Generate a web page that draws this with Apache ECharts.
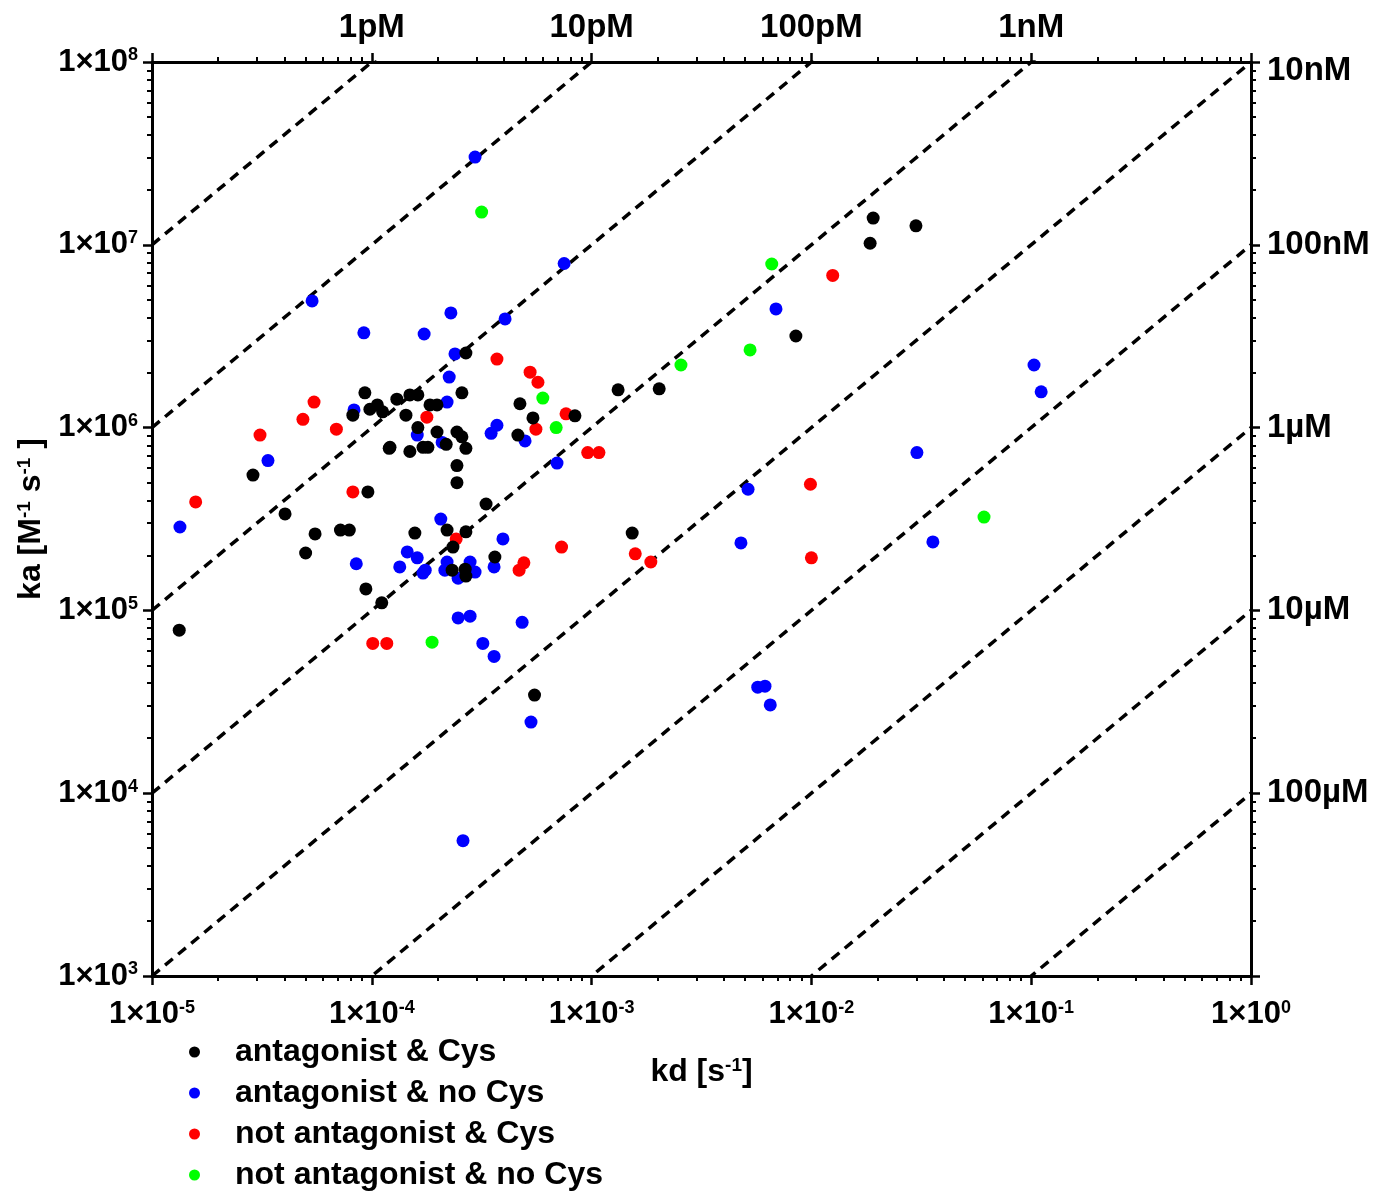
<!DOCTYPE html>
<html>
<head>
<meta charset="utf-8">
<script src="https://cdn.jsdelivr.net/npm/echarts@6/dist/echarts.min.js"></script>
<style>html,body{margin:0;padding:0;background:#fff}#c{width:1387px;height:1194px}</style>
</head>
<body>
<div id="c"></div>
<script>
// ---- data: [kd (s^-1), ka (M^-1 s^-1)] ----
const antagonistCys = [
[9.3e-5,1.55e6],[8.2e-5,1.17e6],[1.06e-4,1.33e6],[1.12e-4,1.22e6],[9.8e-5,1.26e6],[1.30e-4,1.43e6],[1.20e-4,7.7e5],[1.49e-4,1.51e6],[1.62e-4,1.51e6],[1.84e-4,1.33e6],[1.98e-4,1.33e6],[1.43e-4,1.17e6],[2.57e-4,1.55e6],[1.62e-4,1.0e6],[1.98e-4,9.46e5],[2.44e-4,9.46e5],[2.57e-4,8.9e5],[2.68e-4,7.7e5],[2.18e-4,8.1e5],[1.21e-4,7.8e5],[1.49e-4,7.4e5],[1.71e-4,7.8e5],[1.80e-4,7.8e5],[2.44e-4,6.2e5],[2.44e-4,5.0e5],[4.72e-4,1.35e6],[5.41e-4,1.13e6],[4.62e-4,9.1e5],[8.4e-4,1.16e6],[1.32e-3,1.61e6],[2.03e-3,1.63e6],[2.68e-4,2.56e6],[8.5e-3,3.17e6],[1.85e-2,1.02e7],[1.91e-2,1.40e7],[2.99e-2,1.27e7],
[2.88e-5,5.5e5],[4.03e-5,3.37e5],[5.52e-5,2.62e5],[7.2e-5,2.75e5],[7.9e-5,2.75e5],[5.0e-5,2.06e5],[9.4e-5,1.31e5],[1.11e-4,1.10e5],[1.33e-5,7.8e4],[9.6e-5,4.45e5],[1.57e-4,2.65e5],[2.2e-4,2.75e5],[2.68e-4,2.69e5],[2.34e-4,2.22e5],[3.31e-4,3.82e5],[3.63e-4,1.96e5],[2.32e-4,1.66e5],[2.66e-4,1.68e5],[2.68e-4,1.54e5],[5.5e-4,3.44e4],[1.53e-3,2.65e5]
];
const antagonistNoCys = [
[1.34e-5,2.86e5],[3.37e-5,6.6e5],[5.35e-5,4.93e6],[9.2e-5,3.3e6],[1.73e-4,3.25e6],[2.29e-4,4.24e6],[4.04e-4,3.93e6],[2.95e-4,3.02e7],[7.5e-4,7.9e6],[2.39e-4,2.53e6],[2.25e-4,1.89e6],[2.2e-4,1.38e6],[3.71e-4,1.03e6],[3.49e-4,9.3e5],[4.98e-4,8.45e5],[6.96e-4,6.4e5],[1.61e-4,9.1e5],[2.09e-4,8.3e5],[8.3e-5,1.25e6],
[2.06e-4,3.16e5],[3.95e-4,2.46e5],[1.45e-4,2.09e5],[1.61e-4,1.94e5],[1.34e-4,1.73e5],[1.75e-4,1.66e5],[1.71e-4,1.6e5],[2.2e-4,1.84e5],[2.8e-4,1.84e5],[2.15e-4,1.66e5],[2.47e-4,1.5e5],[2.95e-4,1.62e5],[3.6e-4,1.73e5],[8.5e-5,1.8e5],[2.47e-4,9.1e4],[2.8e-4,9.3e4],[4.83e-4,8.6e4],[3.2e-4,6.6e4],[3.6e-4,5.6e4],[5.3e-4,2.45e4],[2.6e-4,5.5e3],
[5.15e-3,4.6e5],[4.78e-3,2.34e5],[6.9e-3,4.46e6],[3.02e-2,7.3e5],[3.57e-2,2.37e5],[1.03e-1,2.2e6],[1.11e-1,1.57e6],[5.7e-3,3.8e4],[6.15e-3,3.85e4],[6.5e-3,3.04e4]
];
const notAntagonistCys = [
[1.58e-5,3.92e5],[3.1e-5,9.1e5],[4.86e-5,1.11e6],[5.46e-5,1.38e6],[6.9e-5,9.8e5],[8.2e-5,4.45e5],[1.01e-4,6.6e4],[1.17e-4,6.6e4],[1.78e-4,1.14e6],[2.42e-4,2.46e5],[3.71e-4,2.37e6],[5.25e-4,2.01e6],[5.7e-4,1.77e6],[5.58e-4,9.8e5],[7.65e-4,1.19e6],[9.6e-4,7.3e5],[1.08e-3,7.3e5],[4.92e-4,1.82e5],[4.68e-4,1.66e5],[7.3e-4,2.22e5],[1.58e-3,2.04e5],[1.86e-3,1.84e5],[9.9e-3,4.9e5],[1.0e-2,1.94e5],[1.25e-2,6.8e6]
];
const notAntagonistNoCys = [
[3.16e-4,1.51e7],[6.0e-4,1.45e6],[6.9e-4,1.0e6],[1.88e-4,6.7e4],[2.55e-3,2.2e6],[5.26e-3,2.66e6],[6.6e-3,7.85e6],[6.1e-2,3.24e5]
];
const seriesNames = ['antagonist & Cys','antagonist & no Cys','not antagonist & Cys','not antagonist & no Cys'];
// equilibrium dissociation constants (M) for the dashed iso-KD lines
const kdLineValues = [1e-12,1e-11,1e-10,1e-9,1e-8,1e-7,1e-6,1e-5,1e-4];
// tick labels
const topTickLabels = ['', '1pM', '10pM', '100pM', '1nM', ''];       // kd 1e-5 .. 1e0
const rightTickLabels = ['', '100\u00b5M', '10\u00b5M', '1\u00b5M', '100nM', '10nM']; // ka 1e3 .. 1e8

const FONT = '"Liberation Sans", Arial, sans-serif';
const rich = {
  b: {fontSize: 31, fontWeight: 'bold', fontFamily: FONT, color: '#000'},
  s: {fontSize: 18, fontWeight: 'bold', fontFamily: FONT, color: '#000', verticalAlign: 'top'}
};
const richName = {
  b: {fontSize: 32, fontWeight: 'bold', fontFamily: FONT, color: '#000'},
  s: {fontSize: 19, fontWeight: 'bold', fontFamily: FONT, color: '#000', verticalAlign: 'top'}
};
const expOf = v => Math.round(Math.log10(v));
const powLabel = v => '{b|1\u00d710}{s|' + expOf(v) + '}';

function axisCommon(extra) {
  return Object.assign({
    type: 'log', logBase: 10,
    axisLine: {show: true, onZero: false, lineStyle: {color: '#000', width: 3}},
    axisTick: {show: true, inside: false, length: 9, lineStyle: {color: '#000', width: 2.5}},
    minorTick: {show: true, splitNumber: 9, length: 5, lineStyle: {color: '#000', width: 2}},
    splitLine: {show: false}, minorSplitLine: {show: false}
  }, extra);
}

const colors = ['#000000', '#0000ff', '#ff0000', '#00ff00'];
const dataSets = [antagonistCys, antagonistNoCys, notAntagonistCys, notAntagonistNoCys];

const series = [];
kdLineValues.forEach(K => {
  series.push({
    type: 'line', silent: true, symbol: 'none', clip: true, z: 1,
    data: [[1e-5, 1e-5 / K], [1, 1 / K]],
    lineStyle: {color: '#000', width: 3.5, type: [10, 7]}
  });
});
// draw order: green, red, blue, black (black on top)
[3, 2, 1, 0].forEach(i => {
  series.push({
    name: seriesNames[i], type: 'scatter', symbol: 'circle', symbolSize: 13, z: 3,
    itemStyle: {color: colors[i], opacity: 1},
    data: dataSets[i]
  });
});

const lblStyle = {fontSize: 33, fontWeight: 'bold', fontFamily: FONT, color: '#000'};
const rightRich = {
  r: lblStyle,
  t: Object.assign({padding: [18, 0, 0, 0]}, lblStyle)
};
const rightLabel = v => {
  const e = expOf(v);
  const t = rightTickLabels[e - 3] || '';
  if (!t) return '';
  return (e === 8 ? '{t|' : '{r|') + t + '}';
};

const chart = echarts.init(document.getElementById('c'), null, {renderer: 'canvas'});
chart.setOption({
  animation: false,
  backgroundColor: '#fff',
  grid: {left: 152, right: 136, top: 62, bottom: 218, containLabel: false},
  xAxis: [
    axisCommon({position: 'bottom', min: 1e-5, max: 1,
      name: '{b|kd [s}{s|-1}{b|]}', nameLocation: 'middle', nameGap: 80,
      nameTextStyle: {rich: richName},
      axisLabel: {margin: 23, formatter: powLabel, rich: rich}}),
    axisCommon({position: 'top', min: 1e-5, max: 1,
      axisLabel: Object.assign({margin: 18, formatter: v => topTickLabels[expOf(v) + 5] || ''}, lblStyle)})
  ],
  yAxis: [
    axisCommon({position: 'left', min: 1e3, max: 1e8,
      name: '{b|ka [M}{s|-1}{b| s}{s|-1}{b| ]}', nameLocation: 'middle', nameGap: 100, nameRotate: 90,
      nameTextStyle: {rich: richName},
      axisLabel: {margin: 14, formatter: powLabel, rich: rich}}),
    axisCommon({position: 'right', min: 1e3, max: 1e8,
      axisLabel: {margin: 16, formatter: rightLabel, rich: rightRich}})
  ],
  legend: {
    data: seriesNames, orient: 'vertical', left: 184, top: 1031, height: 200,
    icon: 'circle', itemWidth: 11, itemHeight: 11, itemGap: 9,
    textStyle: {fontSize: 32, fontWeight: 'bold', fontFamily: FONT, color: '#000', padding: [0, 0, 0, 30]}
  },
  series: series
});
</script>
</body>
</html>
